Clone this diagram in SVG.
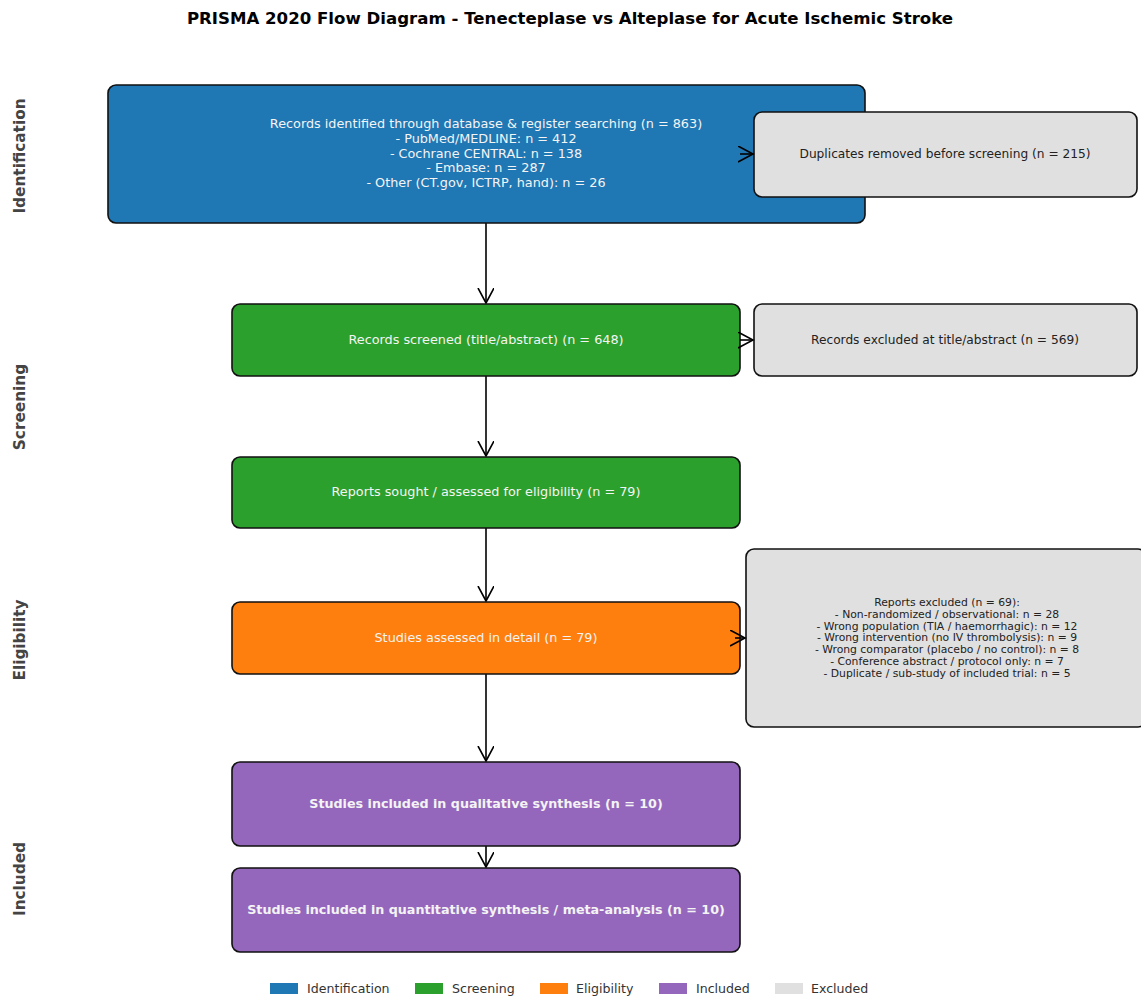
<svg xmlns="http://www.w3.org/2000/svg" width="1141" height="997" viewBox="0 0 1141 997">
<style>
text{font-family:"DejaVu Sans",Verdana,sans-serif}
.box{stroke:#111;stroke-width:1.6}
.id{fill:#1f77b4}.sc{fill:#2ca02c}.el{fill:#ff7f0e}.inc{fill:#9467bd}.ex{fill:#e0e0e0}
.wt{fill:#f4f4f4;font-size:12.8px;text-anchor:middle}
.wb{fill:#f4f4f4;font-size:12.7px;font-weight:bold;text-anchor:middle}
.dt{fill:#222;font-size:12.2px;text-anchor:middle}
.st{fill:#222;font-size:10.8px;text-anchor:middle}
.ph{fill:#444;font-size:15.3px;font-weight:bold;text-anchor:middle}
.lg{fill:#333;font-size:12.6px}
.ar{stroke:#000;stroke-width:1.6;fill:none}
</style>
<defs>
<marker id="ah" markerWidth="18" markerHeight="18" refX="15" refY="8" orient="auto" markerUnits="userSpaceOnUse">
<path d="M0,0 L15,8 L0,16" fill="none" stroke="#000" stroke-width="1.6"/>
</marker>
</defs>
<rect width="1141" height="997" fill="#fff"/>
<text x="570" y="24" text-anchor="middle" font-size="16.6" font-weight="bold" fill="#000">PRISMA 2020 Flow Diagram - Tenecteplase vs Alteplase for Acute Ischemic Stroke</text>

<g id="phases">
<text class="ph" transform="translate(25,156) rotate(-90)">Identification</text>
<text class="ph" transform="translate(25,407) rotate(-90)">Screening</text>
<text class="ph" transform="translate(25,640) rotate(-90)">Eligibility</text>
<text class="ph" transform="translate(25,879) rotate(-90)">Included</text>
</g>

<g id="connectors">
<line class="ar" x1="486" y1="223" x2="486" y2="303" marker-end="url(#ah)"/>
<line class="ar" x1="486" y1="376" x2="486" y2="456" marker-end="url(#ah)"/>
<line class="ar" x1="486" y1="528" x2="486" y2="601" marker-end="url(#ah)"/>
<line class="ar" x1="486" y1="674" x2="486" y2="761" marker-end="url(#ah)"/>
<line class="ar" x1="486" y1="846" x2="486" y2="867" marker-end="url(#ah)"/>
</g>

<g id="n-identified">
<rect class="box id" x="108" y="85" width="757" height="138" rx="8"/>
<text class="wt" x="486" y="128">Records identified through database &amp; register searching (n = 863)</text>
<text class="wt" x="486" y="143">- PubMed/MEDLINE: n = 412</text>
<text class="wt" x="486" y="158">- Cochrane CENTRAL: n = 138</text>
<text class="wt" x="486" y="172">- Embase: n = 287</text>
<text class="wt" x="486" y="187">- Other (CT.gov, ICTRP, hand): n = 26</text>
</g>
<g id="n-duplicates">
<rect class="box ex" x="754" y="112" width="383" height="85" rx="8"/>
<text class="dt" x="945" y="158">Duplicates removed before screening (n = 215)</text>
</g>
<g id="n-screened">
<rect class="box sc" x="232" y="304" width="508" height="72" rx="8"/>
<text class="wt" x="486" y="344">Records screened (title/abstract) (n = 648)</text>
</g>
<g id="n-excl-ta">
<rect class="box ex" x="754" y="304" width="383" height="72" rx="8"/>
<text class="dt" x="945" y="344">Records excluded at title/abstract (n = 569)</text>
</g>
<g id="n-sought">
<rect class="box sc" x="232" y="457" width="508" height="71" rx="8"/>
<text class="wt" x="486" y="496">Reports sought / assessed for eligibility (n = 79)</text>
</g>
<g id="n-assessed">
<rect class="box el" x="232" y="602" width="508" height="72" rx="8"/>
<text class="wt" x="486" y="642">Studies assessed in detail (n = 79)</text>
</g>
<g id="n-excl-reports">
<rect class="box ex" x="746" y="549" width="400" height="178" rx="8"/>
<text class="st" x="947" y="606">Reports excluded (n = 69):</text>
<text class="st" x="947" y="618">- Non-randomized / observational: n = 28</text>
<text class="st" x="947" y="630">- Wrong population (TIA / haemorrhagic): n = 12</text>
<text class="st" x="947" y="641">- Wrong intervention (no IV thrombolysis): n = 9</text>
<text class="st" x="947" y="653">- Wrong comparator (placebo / no control): n = 8</text>
<text class="st" x="947" y="665">- Conference abstract / protocol only: n = 7</text>
<text class="st" x="947" y="677">- Duplicate / sub-study of included trial: n = 5</text>
</g>
<g id="n-qual">
<rect class="box inc" x="232" y="762" width="508" height="84" rx="8"/>
<text class="wb" x="486" y="808">Studies included in qualitative synthesis (n = 10)</text>
</g>
<g id="n-quant">
<rect class="box inc" x="232" y="868" width="508" height="84" rx="8"/>
<text class="wb" x="486" y="914">Studies included in quantitative synthesis / meta-analysis (n = 10)</text>
</g>

<g id="connectors-side">
<line class="ar" x1="740" y1="154" x2="753" y2="154" marker-end="url(#ah)"/>
<line class="ar" x1="740" y1="340" x2="753" y2="340" marker-end="url(#ah)"/>
<line class="ar" x1="735" y1="638" x2="745" y2="638" marker-end="url(#ah)"/>
</g>

<g id="legend">
<rect x="270" y="983" width="28" height="11" fill="#1f77b4"/><text class="lg" x="307" y="993">Identification</text>
<rect x="415" y="983" width="28" height="11" fill="#2ca02c"/><text class="lg" x="452" y="993">Screening</text>
<rect x="540" y="983" width="28" height="11" fill="#ff7f0e"/><text class="lg" x="576" y="993">Eligibility</text>
<rect x="659" y="983" width="28" height="11" fill="#9467bd"/><text class="lg" x="696" y="993">Included</text>
<rect x="775" y="983" width="28" height="11" fill="#e0e0e0"/><text class="lg" x="811" y="993">Excluded</text>
</g>
</svg>
